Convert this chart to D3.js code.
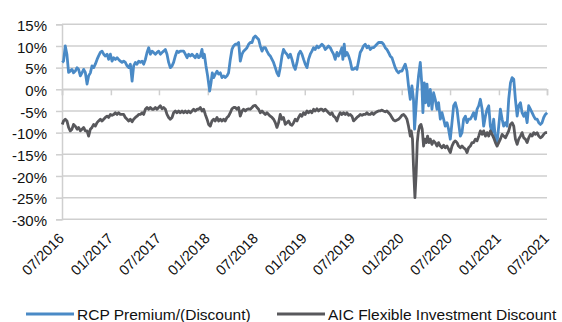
<!DOCTYPE html>
<html>
<head>
<meta charset="utf-8">
<script src="https://cdn.jsdelivr.net/npm/d3@7"></script>
<style>
  html, body { margin: 0; padding: 0; background: #fff; }
  svg { display: block; font-family: "Liberation Sans", Arial, sans-serif; }
</style>
</head>
<body>
<svg id="chart" width="562" height="322"></svg>
<script>
// Weekly premium/discount observations, dates given as decimal years
const rcpYears = [
  2016.500,2016.513,2016.531,2016.548,2016.565,2016.582,2016.600,2016.616,2016.634,2016.652,
  2016.668,2016.686,2016.703,2016.720,2016.737,2016.755,2016.771,2016.789,2016.806,2016.823,
  2016.840,2016.858,2016.874,2016.892,2016.909,2016.926,2016.943,2016.961,2016.977,2016.995,
  2017.012,2017.029,2017.046,2017.064,2017.080,2017.098,2017.115,2017.132,2017.149,2017.167,
  2017.184,2017.201,2017.219,2017.235,2017.253,2017.270,2017.287,2017.304,2017.322,2017.338,
  2017.356,2017.373,2017.390,2017.407,2017.425,2017.441,2017.459,2017.476,2017.493,2017.510,
  2017.528,2017.544,2017.562,2017.579,2017.596,2017.613,2017.631,2017.647,2017.665,2017.682,
  2017.699,2017.716,2017.751,2017.768,2017.786,2017.802,2017.820,2017.837,2017.854,2017.871,
  2017.889,2017.905,2017.923,2017.940,2017.950,2017.964,2017.981,2017.998,2018.019,2018.033,
  2018.046,2018.060,2018.077,2018.095,2018.111,2018.129,2018.146,2018.163,2018.180,2018.198,
  2018.214,2018.232,2018.249,2018.266,2018.284,2018.301,2018.318,2018.335,2018.353,2018.369,
  2018.387,2018.404,2018.421,2018.438,2018.456,2018.472,2018.490,2018.507,2018.524,2018.541,
  2018.559,2018.575,2018.593,2018.610,2018.627,2018.644,2018.662,2018.678,2018.696,2018.713,
  2018.730,2018.747,2018.765,2018.781,2018.799,2018.816,2018.833,2018.851,2018.868,2018.885,
  2018.902,2018.920,2018.936,2018.954,2018.971,2018.988,2019.005,2019.023,2019.039,2019.057,
  2019.074,2019.091,2019.108,2019.126,2019.142,2019.160,2019.177,2019.194,2019.211,2019.229,
  2019.245,2019.263,2019.280,2019.297,2019.314,2019.332,2019.348,2019.366,2019.383,2019.393,
  2019.407,2019.418,2019.435,2019.452,2019.469,2019.487,2019.503,2019.521,2019.538,2019.555,
  2019.572,2019.590,2019.606,2019.624,2019.641,2019.658,2019.675,2019.693,2019.709,2019.727,
  2019.744,2019.761,2019.778,2019.796,2019.812,2019.830,2019.847,2019.864,2019.881,2019.899,
  2019.915,2019.933,2019.951,2019.967,2019.985,2020.002,2020.019,2020.036,2020.054,2020.070,
  2020.088,2020.105,2020.121,2020.132,2020.146,2020.157,2020.173,2020.191,2020.208,2020.218,
  2020.232,2020.245,2020.260,2020.276,2020.294,2020.311,2020.328,2020.345,2020.363,2020.379,
  2020.397,2020.414,2020.431,2020.448,2020.466,2020.482,2020.500,2020.517,2020.534,2020.552,
  2020.569,2020.585,2020.603,2020.620,2020.637,2020.655,2020.672,2020.688,2020.706,2020.723,
  2020.740,2020.758,2020.775,2020.792,2020.809,2020.827,2020.843,2020.861,2020.878,2020.895,
  2020.912,2020.930,2020.946,2020.964,2020.981,2020.998,2021.015,2021.033,2021.049,2021.067,
  2021.084,2021.101,2021.119,2021.136,2021.153,2021.170,2021.188,2021.204,2021.222,2021.239,
  2021.256,2021.273,2021.291,2021.307,2021.325,2021.342,2021.359,2021.376,2021.394,2021.411,
  2021.428,2021.445,2021.462,2021.479,2021.497
];
const rcpValues = [
  6.2,6.5,10.0,8.0,3.9,4.2,4.6,3.8,4.2,5.0,
  4.6,3.1,3.8,4.6,3.9,1.2,3.1,3.8,5.4,5.0,
  5.8,6.9,7.7,8.5,8.8,8.1,7.7,8.1,6.9,8.1,
  6.5,7.3,6.9,7.3,6.9,6.5,6.2,6.5,6.2,5.4,
  5.0,5.8,1.9,5.4,6.2,5.8,6.5,6.2,6.5,5.8,
  6.9,8.5,9.6,8.1,8.8,8.5,8.1,8.5,8.8,8.1,
  8.5,8.8,9.2,8.1,6.2,5.0,5.4,6.2,7.7,8.8,
  8.5,8.8,8.8,8.1,7.3,8.1,7.7,8.1,7.7,7.3,
  8.1,7.3,7.7,9.2,7.3,8.1,5.4,3.1,-0.4,1.5,
  3.8,2.7,3.5,4.2,3.5,3.8,2.7,3.1,2.7,3.1,
  3.8,6.9,9.2,10.0,10.4,10.4,10.8,6.5,8.1,8.8,
  9.2,9.6,10.4,10.8,10.8,11.9,12.3,11.9,11.5,10.0,
  8.8,9.6,9.6,8.8,8.1,7.7,6.9,6.2,5.0,3.8,
  3.1,5.0,7.7,9.2,8.5,8.1,7.3,8.1,6.9,5.4,
  4.6,6.2,8.1,8.8,8.1,6.9,5.8,5.0,6.9,8.1,
  8.8,9.6,9.2,10.0,9.6,10.0,10.4,10.0,9.2,9.6,
  10.0,9.6,8.8,8.1,6.9,8.5,7.7,8.5,9.6,6.9,
  10.4,7.7,8.5,7.7,6.5,4.6,4.6,5.0,4.6,6.5,
  8.5,9.2,10.0,10.4,9.6,10.0,9.2,9.6,9.6,10.0,
  10.4,10.8,10.8,10.8,10.4,9.6,9.2,8.5,7.7,7.3,
  6.2,5.0,4.2,3.8,4.2,4.2,5.0,5.8,4.2,0.8,
  -2.3,0.8,-2.3,-9.2,-4.6,-0.8,3.1,6.2,0.8,-5.4,
  1.5,-3.1,1.2,-3.8,0.0,-4.6,-0.8,-2.3,-4.6,-3.1,
  -6.9,-5.4,-6.9,-8.5,-7.7,-9.2,-11.5,-7.7,-3.8,-3.1,
  -4.6,-7.7,-10.8,-10.0,-6.9,-6.2,-7.7,-6.9,-6.9,-6.2,
  -5.4,-6.9,-4.6,-3.8,-2.3,-4.6,-8.5,-6.2,-4.6,-3.8,
  -8.5,-10.0,-6.9,-11.5,-12.3,-8.5,-4.6,-6.9,-8.5,-7.7,
  -8.5,-2.3,1.5,2.7,2.3,-2.3,-6.2,-3.8,-3.1,-5.4,
  -6.2,-5.4,-7.7,-3.8,-4.6,-5.4,-6.2,-6.9,-6.9,-7.7,
  -8.1,-7.7,-6.5,-5.8,-5.4
];

const aicYears = [
  2016.500,2016.513,2016.531,2016.548,2016.565,2016.582,2016.600,2016.616,2016.634,2016.652,
  2016.668,2016.686,2016.703,2016.720,2016.737,2016.755,2016.771,2016.789,2016.806,2016.823,
  2016.840,2016.858,2016.874,2016.892,2016.909,2016.926,2016.943,2016.961,2016.977,2016.995,
  2017.012,2017.029,2017.046,2017.064,2017.080,2017.098,2017.115,2017.132,2017.149,2017.167,
  2017.184,2017.201,2017.219,2017.235,2017.253,2017.270,2017.287,2017.304,2017.322,2017.338,
  2017.356,2017.373,2017.390,2017.407,2017.425,2017.441,2017.459,2017.476,2017.493,2017.510,
  2017.528,2017.544,2017.562,2017.579,2017.596,2017.613,2017.631,2017.647,2017.665,2017.682,
  2017.699,2017.716,2017.734,2017.751,2017.768,2017.786,2017.802,2017.820,2017.837,2017.854,
  2017.871,2017.889,2017.905,2017.923,2017.940,2017.957,2017.974,2017.992,2018.008,2018.026,
  2018.043,2018.060,2018.077,2018.095,2018.111,2018.129,2018.146,2018.163,2018.180,2018.198,
  2018.214,2018.232,2018.249,2018.266,2018.284,2018.301,2018.318,2018.335,2018.353,2018.369,
  2018.387,2018.404,2018.421,2018.438,2018.456,2018.472,2018.490,2018.507,2018.524,2018.541,
  2018.559,2018.575,2018.593,2018.610,2018.627,2018.644,2018.662,2018.678,2018.696,2018.713,
  2018.730,2018.747,2018.765,2018.781,2018.799,2018.816,2018.833,2018.851,2018.868,2018.885,
  2018.902,2018.920,2018.936,2018.954,2018.971,2018.988,2019.005,2019.023,2019.039,2019.057,
  2019.074,2019.091,2019.108,2019.126,2019.142,2019.160,2019.177,2019.194,2019.211,2019.229,
  2019.245,2019.263,2019.280,2019.297,2019.314,2019.332,2019.348,2019.366,2019.383,2019.400,
  2019.418,2019.435,2019.452,2019.469,2019.487,2019.503,2019.521,2019.538,2019.555,2019.572,
  2019.590,2019.606,2019.624,2019.641,2019.658,2019.675,2019.693,2019.709,2019.727,2019.744,
  2019.761,2019.778,2019.796,2019.812,2019.830,2019.847,2019.864,2019.881,2019.899,2019.915,
  2019.933,2019.951,2019.967,2019.985,2020.002,2020.019,2020.036,2020.054,2020.070,2020.088,
  2020.098,2020.111,2020.121,2020.136,2020.149,2020.160,2020.170,2020.184,2020.198,2020.211,
  2020.225,2020.239,2020.253,2020.266,2020.281,2020.294,2020.311,2020.328,2020.345,2020.363,
  2020.379,2020.397,2020.414,2020.431,2020.448,2020.466,2020.482,2020.500,2020.517,2020.534,
  2020.552,2020.569,2020.585,2020.603,2020.620,2020.637,2020.655,2020.672,2020.688,2020.706,
  2020.723,2020.740,2020.758,2020.775,2020.792,2020.809,2020.827,2020.843,2020.861,2020.878,
  2020.895,2020.912,2020.930,2020.946,2020.964,2020.981,2020.998,2021.015,2021.033,2021.049,
  2021.067,2021.084,2021.101,2021.119,2021.136,2021.153,2021.170,2021.188,2021.204,2021.222,
  2021.239,2021.256,2021.273,2021.291,2021.307,2021.325,2021.342,2021.359,2021.376,2021.394,
  2021.411,2021.428,2021.445,2021.462,2021.479,2021.497
];
const aicValues = [
  -8.1,-7.3,-6.9,-7.3,-8.8,-9.6,-9.2,-8.1,-8.5,-9.2,
  -8.8,-9.6,-9.2,-8.8,-9.6,-9.6,-10.8,-9.2,-8.8,-8.1,
  -8.5,-7.7,-7.3,-6.9,-7.3,-6.9,-6.5,-6.2,-6.5,-5.8,
  -6.0,-5.8,-5.4,-5.8,-5.4,-5.8,-5.8,-5.8,-6.5,-6.9,
  -7.3,-6.9,-7.5,-6.9,-6.5,-6.2,-5.8,-5.8,-5.4,-5.8,
  -4.6,-4.2,-4.6,-4.2,-4.6,-4.6,-4.2,-4.6,-4.2,-3.8,
  -4.5,-4.2,-4.6,-5.8,-6.5,-6.9,-6.5,-5.4,-5.0,-5.4,
  -5.0,-5.4,-5.0,-5.4,-5.0,-5.4,-5.0,-5.4,-5.0,-4.6,
  -5.0,-4.6,-4.6,-4.2,-5.0,-4.6,-5.8,-6.9,-8.1,-8.5,
  -7.3,-6.9,-7.3,-6.5,-7.3,-6.9,-7.3,-6.9,-7.3,-6.5,
  -6.2,-5.4,-4.5,-4.2,-4.2,-4.6,-4.2,-6.2,-5.0,-4.6,
  -5.0,-4.6,-4.5,-4.6,-4.2,-3.8,-3.7,-4.2,-4.6,-5.4,
  -5.0,-5.4,-5.8,-5.4,-5.8,-6.2,-6.5,-6.9,-7.7,-8.8,
  -7.7,-5.8,-6.9,-6.5,-8.1,-7.7,-7.3,-8.1,-8.3,-7.7,
  -6.9,-7.3,-6.5,-5.8,-6.2,-5.4,-5.8,-5.0,-5.4,-5.0,
  -5.4,-4.6,-5.0,-4.5,-5.0,-4.6,-4.6,-5.0,-4.6,-5.0,
  -5.4,-5.8,-5.4,-6.2,-6.5,-7.3,-6.2,-5.4,-5.8,-5.4,
  -5.8,-5.4,-6.0,-5.8,-6.2,-7.3,-6.9,-6.5,-6.2,-5.8,
  -6.0,-5.8,-5.8,-5.4,-5.8,-5.8,-5.4,-5.8,-5.4,-5.2,
  -5.0,-5.0,-4.8,-5.0,-5.2,-5.0,-5.4,-5.8,-6.5,-7.1,
  -7.3,-7.1,-6.9,-6.5,-6.0,-5.8,-6.2,-6.9,-8.5,-10.8,
  -9.6,-11.5,-17.7,-25.0,-19.2,-12.3,-10.0,-8.5,-8.1,-9.2,
  -13.1,-11.5,-12.3,-10.8,-12.3,-11.5,-12.7,-11.9,-12.3,-13.1,
  -12.3,-13.1,-13.5,-12.9,-13.5,-13.1,-13.8,-14.6,-13.1,-12.3,
  -11.9,-12.3,-13.1,-13.5,-13.1,-13.5,-13.8,-14.6,-13.5,-13.1,
  -12.3,-12.3,-11.5,-11.9,-10.8,-9.6,-10.4,-9.6,-10.8,-10.0,
  -10.8,-9.6,-10.4,-11.2,-12.3,-13.1,-12.3,-11.5,-10.4,-10.8,
  -11.2,-10.4,-9.6,-8.1,-7.7,-8.5,-11.5,-12.7,-11.5,-10.8,
  -10.0,-11.2,-11.5,-12.3,-11.2,-10.4,-10.8,-10.0,-10.4,-10.0,
  -10.8,-11.2,-10.9,-10.4,-10.0,-10.0
];

const yTicks = [-30, -25, -20, -15, -10, -5, 0, 5, 10, 15];
const xTickMonths = ["2016-07", "2017-01", "2017-07", "2018-01", "2018-07",
                     "2019-01", "2019-07", "2020-01", "2020-07", "2021-01", "2021-07"];
const seriesNames = ["RCP Premium/(Discount)", "AIC Flexible Investment Discount"];
const seriesColors = ["#4a8ac6", "#58585c"];

// decimal year -> Date
function yearToDate(t) {
  const yr = Math.floor(t);
  const a = new Date(yr, 0, 1), b = new Date(yr + 1, 0, 1);
  return new Date(+a + (t - yr) * (b - a));
}
const parseMonth = d3.timeParse("%Y-%m");

const series = [
  rcpYears.map((t, i) => ({ date: yearToDate(t), value: rcpValues[i] })),
  aicYears.map((t, i) => ({ date: yearToDate(t), value: aicValues[i] }))
];

const svg = d3.select("#chart");
const plotLeft = 62, plotRight = 547, plotTop = 24.3, plotBottom = 219.3;

const x = d3.scaleTime()
  .domain([parseMonth(xTickMonths[0]), parseMonth(xTickMonths[xTickMonths.length - 1])])
  .range([plotLeft, plotRight]);
const y = d3.scaleLinear().domain([-30, 15]).range([plotBottom, plotTop]);

const gridColor = "#cfcfcf";
const textColor = "#111";

// horizontal gridlines
svg.append("g").selectAll("line").data(yTicks).join("line")
  .attr("x1", plotLeft).attr("x2", plotRight)
  .attr("y1", d => y(d)).attr("y2", d => y(d))
  .attr("stroke", gridColor).attr("stroke-width", 1.5);

// y axis
const yAxis = svg.append("g")
  .attr("transform", `translate(${plotLeft},0)`)
  .call(d3.axisLeft(y).tickValues(yTicks).tickSize(6).tickPadding(9)
    .tickFormat(d => d + "%"));
yAxis.select(".domain").attr("stroke", gridColor).attr("stroke-width", 1.5);
yAxis.selectAll(".tick line").attr("stroke", gridColor).attr("stroke-width", 1.5);
yAxis.selectAll(".tick text")
  .attr("fill", textColor).attr("font-size", 15).attr("dy", "0.42em")
  .attr("font-family", "'Liberation Sans', Arial, sans-serif");

// x axis along the 0% line, tick marks hanging below it
const xTicks = xTickMonths.map(parseMonth);
const xAxis = svg.append("g")
  .attr("transform", `translate(0,${y(0)})`)
  .call(d3.axisBottom(x).tickValues(xTicks).tickSize(6).tickFormat(""));
xAxis.select(".domain").attr("stroke", gridColor).attr("stroke-width", 1.5);
xAxis.selectAll(".tick line").attr("stroke", gridColor).attr("stroke-width", 1.5);

// rotated date labels beneath the plot
const fmt = d3.timeFormat("%m/%Y");
svg.append("g").selectAll("text").data(xTicks).join("text")
  .attr("transform", d => `translate(${x(d) + 3},${plotBottom + 20}) rotate(-45)`)
  .attr("text-anchor", "end")
  .attr("font-size", 14.5)
  .attr("fill", textColor)
  .text(d => fmt(d));

// series lines
const line = d3.line().x(d => x(d.date)).y(d => y(d.value));
svg.append("g").selectAll("path").data(series).join("path")
  .attr("d", line)
  .attr("fill", "none")
  .attr("stroke", (d, i) => seriesColors[i])
  .attr("stroke-width", 2.8)
  .attr("stroke-linejoin", "round");

// legend
const legendX = [26, 277];
const lg = svg.append("g").selectAll("g").data(seriesNames).join("g")
  .attr("transform", (d, i) => `translate(${legendX[i]},314)`);
lg.append("line").attr("x1", 0).attr("x2", 48).attr("y1", 0).attr("y2", 0)
  .attr("stroke", (d, i) => seriesColors[i]).attr("stroke-width", 2.8);
lg.append("text").attr("x", 51).attr("dy", "0.36em")
  .attr("font-size", 15.5).attr("fill", textColor)
  .text(d => d);
</script>
</body>
</html>
